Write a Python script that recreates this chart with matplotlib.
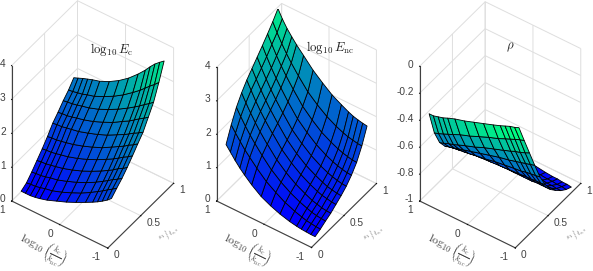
import matplotlib
matplotlib.use("Agg")
import matplotlib.pyplot as plt
from matplotlib.colors import Normalize
import numpy as np
from mpl_toolkits.mplot3d import proj3d

plt.rcParams["font.family"] = ["Liberation Sans", "DejaVu Sans"]
plt.rcParams["mathtext.fontset"] = "cm"

W, H = 593, 271

k_ratio = [0.94, 0.85, 0.75, 0.65, 0.55, 0.4, 0.2, 0.0, -0.2, -0.4, -0.55, -0.65, -0.75, -0.85, -0.94]
s_ratio = [0.1, 0.18, 0.26, 0.34, 0.42, 0.5, 0.58, 0.66, 0.74, 0.82, 0.9]

log_e_c = [
    [0.14, 0.14, 0.14, 0.16, 0.19, 0.25, 0.36, 0.47, 0.60, 0.74, 0.85, 0.93, 1.02, 1.12, 1.23],
    [0.23, 0.25, 0.26, 0.29, 0.33, 0.37, 0.47, 0.59, 0.72, 0.88, 1.01, 1.10, 1.20, 1.29, 1.38],
    [0.40, 0.42, 0.43, 0.46, 0.50, 0.54, 0.64, 0.75, 0.88, 1.03, 1.16, 1.25, 1.35, 1.43, 1.52],
    [0.59, 0.61, 0.62, 0.65, 0.68, 0.73, 0.82, 0.93, 1.06, 1.21, 1.33, 1.42, 1.52, 1.60, 1.69],
    [0.78, 0.80, 0.81, 0.84, 0.87, 0.92, 1.01, 1.12, 1.25, 1.40, 1.52, 1.61, 1.71, 1.79, 1.88],
    [0.99, 1.01, 1.02, 1.05, 1.08, 1.13, 1.22, 1.33, 1.45, 1.61, 1.73, 1.81, 1.91, 1.99, 2.08],
    [1.23, 1.25, 1.26, 1.29, 1.32, 1.36, 1.45, 1.55, 1.67, 1.82, 1.93, 2.02, 2.11, 2.19, 2.27],
    [1.40, 1.42, 1.43, 1.46, 1.50, 1.55, 1.64, 1.76, 1.89, 2.06, 2.18, 2.28, 2.38, 2.47, 2.56],
    [1.59, 1.61, 1.63, 1.66, 1.70, 1.75, 1.85, 1.98, 2.13, 2.30, 2.44, 2.54, 2.65, 2.75, 2.85],
    [1.75, 1.77, 1.80, 1.83, 1.88, 1.94, 2.07, 2.22, 2.40, 2.61, 2.78, 2.91, 3.04, 3.16, 3.28],
    [1.96, 2.01, 2.07, 2.12, 2.17, 2.23, 2.36, 2.53, 2.74, 3.00, 3.22, 3.39, 3.54, 3.66, 3.76],
]

log_e_nc = [
    [1.54, 1.38, 1.20, 1.04, 0.90, 0.71, 0.50, 0.36, 0.25, 0.17, 0.13, 0.11, 0.10, 0.09, 0.09],
    [1.98, 1.80, 1.61, 1.43, 1.28, 1.06, 0.80, 0.61, 0.44, 0.32, 0.25, 0.21, 0.19, 0.17, 0.16],
    [2.35, 2.14, 1.92, 1.72, 1.54, 1.29, 0.99, 0.76, 0.58, 0.44, 0.36, 0.31, 0.28, 0.26, 0.25],
    [2.63, 2.40, 2.16, 1.94, 1.74, 1.47, 1.14, 0.89, 0.69, 0.54, 0.44, 0.40, 0.36, 0.34, 0.33],
    [2.86, 2.62, 2.36, 2.13, 1.92, 1.64, 1.29, 1.03, 0.82, 0.66, 0.56, 0.51, 0.48, 0.45, 0.44],
    [3.05, 2.80, 2.54, 2.30, 2.08, 1.79, 1.43, 1.16, 0.94, 0.78, 0.68, 0.62, 0.59, 0.56, 0.55],
    [3.24, 2.98, 2.72, 2.47, 2.25, 1.95, 1.58, 1.31, 1.08, 0.91, 0.81, 0.76, 0.72, 0.69, 0.68],
    [3.43, 3.17, 2.90, 2.66, 2.44, 2.13, 1.76, 1.49, 1.26, 1.09, 0.99, 0.94, 0.90, 0.87, 0.86],
    [3.63, 3.38, 3.11, 2.87, 2.65, 2.35, 1.98, 1.71, 1.48, 1.32, 1.22, 1.17, 1.13, 1.10, 1.09],
    [3.84, 3.58, 3.32, 3.09, 2.88, 2.60, 2.26, 2.01, 1.80, 1.64, 1.55, 1.50, 1.47, 1.44, 1.43],
    [4.08, 3.84, 3.62, 3.44, 3.27, 3.05, 2.75, 2.51, 2.29, 2.13, 2.02, 1.96, 1.92, 1.89, 1.87],
]

rho = [
    [-0.39, -0.39, -0.38, -0.37, -0.355, -0.335, -0.315, -0.29, -0.265, -0.24, -0.22, -0.205, -0.19, -0.18, -0.167],
    [-0.57, -0.56, -0.545, -0.53, -0.515, -0.49, -0.465, -0.435, -0.405, -0.38, -0.355, -0.34, -0.325, -0.31, -0.30],
    [-0.68, -0.67, -0.655, -0.645, -0.63, -0.61, -0.585, -0.555, -0.53, -0.505, -0.485, -0.47, -0.46, -0.445, -0.43],
    [-0.745, -0.735, -0.725, -0.715, -0.705, -0.69, -0.67, -0.65, -0.63, -0.615, -0.60, -0.59, -0.58, -0.57, -0.56],
    [-0.79, -0.785, -0.78, -0.775, -0.77, -0.76, -0.75, -0.735, -0.725, -0.715, -0.71, -0.70, -0.695, -0.69, -0.685],
    [-0.83, -0.83, -0.825, -0.825, -0.82, -0.815, -0.81, -0.805, -0.80, -0.795, -0.79, -0.79, -0.785, -0.785, -0.78],
    [-0.86, -0.86, -0.86, -0.86, -0.86, -0.86, -0.86, -0.86, -0.86, -0.86, -0.86, -0.855, -0.855, -0.855, -0.855],
    [-0.885, -0.885, -0.885, -0.885, -0.89, -0.89, -0.89, -0.89, -0.895, -0.895, -0.895, -0.90, -0.90, -0.90, -0.90],
    [-0.905, -0.905, -0.91, -0.91, -0.91, -0.915, -0.92, -0.925, -0.925, -0.93, -0.93, -0.935, -0.935, -0.94, -0.94],
    [-0.92, -0.92, -0.925, -0.93, -0.93, -0.935, -0.94, -0.945, -0.95, -0.955, -0.96, -0.96, -0.965, -0.965, -0.97],
    [-0.93, -0.93, -0.935, -0.94, -0.945, -0.95, -0.955, -0.96, -0.965, -0.975, -0.98, -0.98, -0.985, -0.985, -0.99],
]

z_ticks_e = [0, 1, 2, 3, 4]
z_ticks_rho = [-1, -0.8, -0.6, -0.4, -0.2, 0]
z_labels_e = ["0", "1", "2", "3", "4"]
z_labels_rho = ["-1", "-0.8", "-0.6", "-0.4", "-0.2", "0"]
x_ticks = [-1, 0, 1]
x_labels = ["-1", "0", "1"]
y_ticks = [0, 0.5, 1]
y_labels = ["0", "0.5", "1"]

GRID = "#dedede"
AXCOL = "#404040"
TXT = "#404040"
TICK_SIZE = 7.3


def shown(ax, x, y, z):
    # display pixels of a data point, y counted from the figure bottom
    vx, vy, _ = proj3d.proj_transform(x, y, z, ax.get_proj())
    ax.apply_aspect()
    return ax.transData.transform((vx, vy))


def fit_axes(ax, p0, p1, z0):
    # move/scale the square 3d axes so the x axis lands on the pixels p0 -> p1
    a = shown(ax, 1, 0, z0)
    b = shown(ax, -1, 0, z0)
    pos = ax.get_position()
    s = np.hypot(p1[0] - p0[0], p1[1] - p0[1]) / np.hypot(*(b - a))
    ax.set_position([pos.x0, pos.y0, pos.width * s, pos.height * s])
    a = shown(ax, 1, 0, z0)
    pos = ax.get_position()
    dx = (p0[0] - a[0]) / W
    dy = ((H - p0[1]) - a[1]) / H
    ax.set_position([pos.x0 + dx, pos.y0 + dy, pos.width, pos.height])


def tick_text(ax, point, label, off, ha):
    px, py = shown(ax, *point)
    fig.text((px + off[0]) / W, (py - off[1]) / H, label, fontsize=TICK_SIZE, color=TXT,
             ha=ha, va="center")


def panel(vals, zlim, zticks, zlabels, origin, xend, title, title_xy, xlab_xy, ylab_xy):
    ax = fig.add_axes([0.1, 0.1, 300 / W, 300 / H], projection="3d", proj_type="ortho")
    ax.patch.set_alpha(0)
    ax.set_box_aspect((1.03, 1, 1.65))
    ax.view_init(elev=44, azim=-54.8)
    ax.set_xlim(1, -1)
    ax.set_ylim(0, 1)
    ax.set_zlim(*zlim)

    # ascending k so each face takes the colour of its first vertex, as matlab does
    xx, yy = np.meshgrid(k_ratio[::-1], s_ratio)
    zz = np.array(vals)[:, ::-1]
    colors = plt.get_cmap("winter")(Normalize(zz.min(), zz.max())(zz))
    ax.plot_surface(xx, yy, zz, facecolors=colors,
                    rcount=len(s_ratio), ccount=len(k_ratio), shade=False,
                    edgecolor="k", linewidth=0.6, antialiased=True)

    ax.set_xticks(x_ticks)
    ax.set_xticklabels([])
    ax.set_yticks(y_ticks)
    ax.set_yticklabels([])
    ax.set_zticks(zticks)
    ax.set_zticklabels([])

    for axis in (ax.xaxis, ax.yaxis, ax.zaxis):
        axis.set_pane_color((1, 1, 1, 0))
        axis.pane.set_edgecolor(GRID)
        axis.line.set_color(AXCOL)
        axis.line.set_linewidth(0.8)
        axis._axinfo["grid"]["color"] = GRID
        axis._axinfo["grid"]["linewidth"] = 0.7
        axis._axinfo["tick"]["inward_factor"] = 0.03
        axis._axinfo["tick"]["outward_factor"] = 0.0
        axis._axinfo["tick"]["linewidth"] = {True: 0.7, False: 0.7}
        axis._axinfo["tick"]["color"] = AXCOL
    ax.zaxis.set_ticks_position("lower")

    fit_axes(ax, origin, xend, zlim[0])

    # tick labels sit at the projected tick positions
    for t, lab in zip(zticks, zlabels):
        tick_text(ax, (1, 0, t), lab, (-6, -1.5), "right")
    for t, lab in zip(x_ticks, x_labels):
        tick_text(ax, (t, 0, zlim[0]), lab, (-6.8, 9.3), "right")
    for t, lab in zip(y_ticks, y_labels):
        tick_text(ax, (-1, t, zlim[0]), lab, (5.8, 7.2), "left")

    fig.text(title_xy[0] / W, 1 - title_xy[1] / H, title, fontsize=9.2, color="#222222",
             ha="center", va="center")
    fig.text(xlab_xy[0] / W, 1 - xlab_xy[1] / H, r"$\log_{10}\left(\frac{k_{\rm c}}{k_{\rm nc}}\right)$",
             fontsize=8.4, color=TXT, rotation=-26, ha="center", va="center")
    fig.text(ylab_xy[0] / W, 1 - ylab_xy[1] / H, r"$^{s_1}/_{t_{s,s}}$",
             fontsize=6.5, color="#606060", rotation=45, ha="center", va="center")
    return ax


fig = plt.figure(figsize=(W / 100, H / 100), dpi=100)

panel(log_e_c, (0, 4), z_ticks_e, z_labels_e, (11.7, 201), (108.3, 247),
      r"$\log_{10}E_{\rm c}$", (112, 50), (43, 249), (169, 234))
panel(log_e_nc, (0, 4), z_ticks_e, z_labels_e, (216.7, 201), (311.7, 247),
      r"$\log_{10}E_{\rm nc}$", (330, 47.5), (247, 249), (374, 234))
panel(rho, (-1, 0), z_ticks_rho, z_labels_rho, (419.7, 201), (515.7, 247),
      r"$\rho$", (510.5, 47.5), (451, 249), (577, 234))

fig.savefig("out.png", dpi=100)
